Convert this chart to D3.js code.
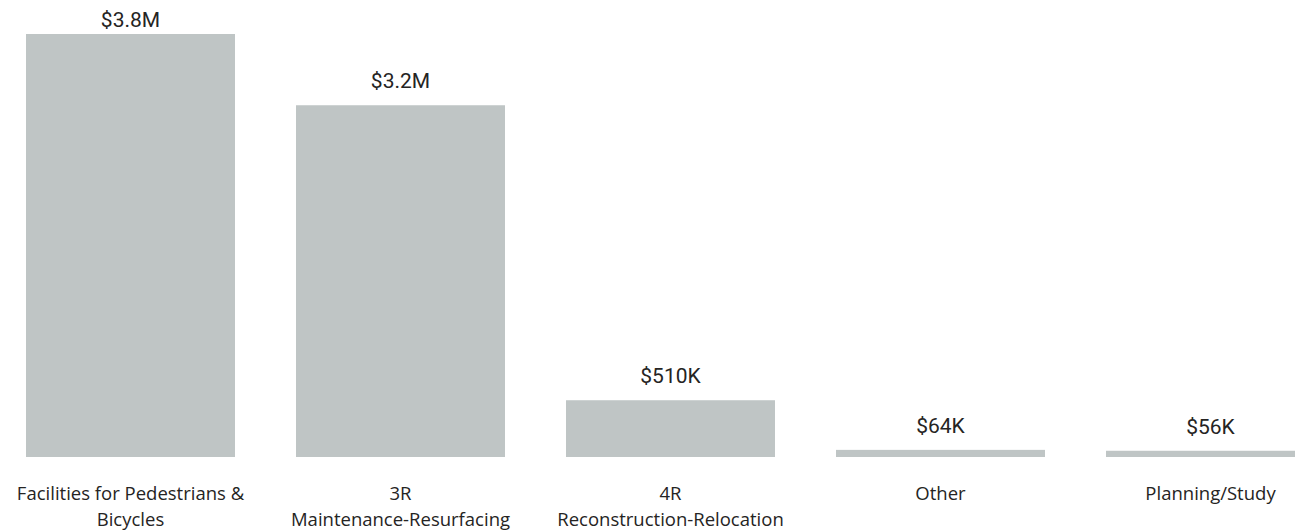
<!DOCTYPE html>
<html>
<head>
<meta charset="utf-8">
<script src="https://cdn.jsdelivr.net/npm/d3@7"></script>
<style>
  body { margin: 0; background: #fff; }
</style>
</head>
<body>
<div id="wrapper"></div>
<script>
// data
const categories = [
    "Facilities for Pedestrians & Bicycles",
    "3R Maintenance-Resurfacing",
    "4R Reconstruction-Relocation",
    "Other",
    "Planning/Study"
];
// label lines as shown under each bar
const categoryLines = [
    ["Facilities for Pedestrians &", "Bicycles"],
    ["3R", "Maintenance-Resurfacing"],
    ["4R", "Reconstruction-Relocation"],
    ["Other"],
    ["Planning/Study"]
];
const amounts = [3800000, 3160000, 510000, 64000, 56000];

function drawChart() {
    const data = categories.map((c, i) => ({ category: c, amount: amounts[i], lines: categoryLines[i] }));

    const dimension = {
        width: 1295,
        height: 532,
        margin: { top: 34, left: -4.5, bottom: 75, right: 0 }
    };
    dimension.baseline = dimension.height - dimension.margin.bottom;

    const svg = d3.select("#wrapper").append("svg")
        .attr("width", dimension.width)
        .attr("height", dimension.height);

    // 5 bands, 270px step
    const xScaler = d3.scaleBand()
        .domain(categories)
        .range([dimension.margin.left, dimension.margin.left + 270 * categories.length])
        .paddingInner(0.226)
        .paddingOuter(0.113);

    const yScaler = d3.scaleLinear()
        .domain([0, d3.max(amounts)])
        .range([dimension.baseline, dimension.margin.top]);

    const fmt = v => v >= 1e6 ? "$" + (v / 1e6).toFixed(1) + "M" : "$" + Math.round(v / 1e3) + "K";

    svg.append("g").selectAll("rect")
        .data(data)
        .join("rect")
        .attr("x", d => xScaler(d.category))
        .attr("y", d => yScaler(d.amount))
        .attr("width", xScaler.bandwidth())
        .attr("height", d => dimension.baseline - yScaler(d.amount))
        .attr("fill", "#bfc5c5");

    // value labels (kept inside the top edge)
    svg.append("g").selectAll("text")
        .data(data)
        .join("text")
        .attr("x", d => xScaler(d.category) + xScaler.bandwidth() / 2)
        .attr("y", d => Math.max(yScaler(d.amount) - 17, 27))
        .attr("text-anchor", "middle")
        .style("font-family", "Roboto, sans-serif")
        .style("font-size", "21px")
        .attr("fill", "#252423")
        .text(d => fmt(d.amount));

    // category labels
    const xAxis = d3.axisBottom(xScaler).tickSize(0).tickPadding(0);
    const axisG = svg.append("g")
        .attr("transform", `translate(0,${dimension.baseline})`)
        .call(xAxis);
    axisG.select(".domain").remove();
    axisG.selectAll("text")
        .style("font-family", "'Open Sans', sans-serif")
        .style("font-size", "18.5px")
        .attr("fill", "#252423")
        .attr("dy", null)
        .attr("y", 0)
        .each(function(d, i) {
            const text = d3.select(this);
            text.text(null);
            categoryLines[i].forEach((ln, j) => {
                text.append("tspan").attr("x", 0).attr("y", 43 + j * 26).text(ln);
            });
        });
}

drawChart();
</script>
</body>
</html>
